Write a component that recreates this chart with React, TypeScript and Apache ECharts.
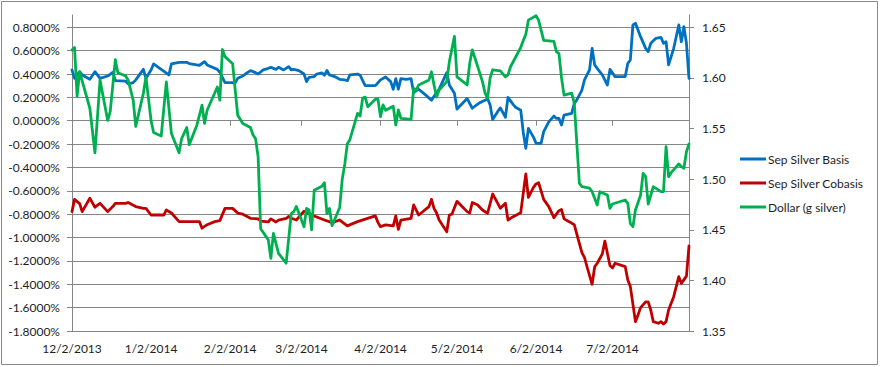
import React, { useEffect, useRef } from 'react';
import * as echarts from 'echarts';

const xStart = '12/2/2013';
const xEnd = '8/1/2014';
const xTickDates = ['12/2/2013', '1/2/2014', '2/2/2014', '3/2/2014', '4/2/2014', '5/2/2014', '6/2/2014', '7/2/2014'];

const seriesNames = ['Sep Silver Basis', 'Sep Silver Cobasis', 'Dollar (g silver)'];

const basis: [string, number][] = [
  ['12/2/2013', 0.435], ['12/3/2013', 0.363], ['12/5/2013', 0.42], ['12/6/2013', 0.392], ['12/9/2013', 0.355],
  ['12/11/2013', 0.42], ['12/13/2013', 0.363], ['12/16/2013', 0.383], ['12/18/2013', 0.415], ['12/19/2013', 0.343],
  ['12/23/2013', 0.34], ['12/24/2013', 0.315], ['12/26/2013', 0.326], ['12/27/2013', 0.35], ['12/30/2013', 0.44],
  ['12/31/2013', 0.363], ['1/2/2014', 0.435], ['1/3/2014', 0.486], ['1/6/2014', 0.44], ['1/9/2014', 0.392],
  ['1/10/2014', 0.486], ['1/13/2014', 0.5], ['1/16/2014', 0.5], ['1/17/2014', 0.49], ['1/21/2014', 0.475],
  ['1/23/2014', 0.506], ['1/24/2014', 0.478], ['1/28/2014', 0.44], ['1/29/2014', 0.415], ['1/31/2014', 0.326],
  ['2/4/2014', 0.326], ['2/5/2014', 0.363], ['2/7/2014', 0.383], ['2/8/2014', 0.4], ['2/10/2014', 0.429],
  ['2/12/2014', 0.412], ['2/13/2014', 0.4], ['2/15/2014', 0.435], ['2/17/2014', 0.449], ['2/18/2014', 0.457],
  ['2/20/2014', 0.44], ['2/21/2014', 0.457], ['2/23/2014', 0.435], ['2/25/2014', 0.463], ['2/26/2014', 0.435],
  ['2/27/2014', 0.44], ['3/1/2014', 0.429], ['3/3/2014', 0.4], ['3/4/2014', 0.335], ['3/5/2014', 0.372],
  ['3/7/2014', 0.378], ['3/8/2014', 0.4], ['3/10/2014', 0.41], ['3/11/2014', 0.39], ['3/12/2014', 0.43],
  ['3/13/2014', 0.392], ['3/15/2014', 0.378], ['3/17/2014', 0.355], ['3/19/2014', 0.349], ['3/20/2014', 0.343],
  ['3/21/2014', 0.392], ['3/24/2014', 0.4], ['3/25/2014', 0.39], ['3/27/2014', 0.3], ['3/29/2014', 0.3],
  ['3/31/2014', 0.3], ['4/2/2014', 0.35], ['4/4/2014', 0.375], ['4/6/2014', 0.335], ['4/7/2014', 0.27],
  ['4/8/2014', 0.36], ['4/9/2014', 0.27], ['4/10/2014', 0.36], ['4/12/2014', 0.355], ['4/14/2014', 0.36],
  ['4/15/2014', 0.24], ['4/17/2014', 0.27], ['4/20/2014', 0.215], ['4/22/2014', 0.175], ['4/23/2014', 0.21],
  ['4/25/2014', 0.27], ['4/28/2014', 0.412], ['4/29/2014', 0.306], ['5/1/2014', 0.235], ['5/2/2014', 0.1],
  ['5/4/2014', 0.145], ['5/6/2014', 0.19], ['5/8/2014', 0.107], ['5/10/2014', 0.14], ['5/11/2014', 0.155],
  ['5/13/2014', 0.175], ['5/14/2014', 0.19], ['5/15/2014', 0.135], ['5/16/2014', 0.01], ['5/18/2014', 0.08],
  ['5/19/2014', 0.11], ['5/21/2014', 0.03], ['5/22/2014', 0.2], ['5/24/2014', 0.14], ['5/25/2014', 0.115],
  ['5/27/2014', 0.09], ['5/28/2014', -0.1], ['5/29/2014', -0.236], ['5/30/2014', -0.065], ['6/1/2014', -0.14],
  ['6/2/2014', -0.193], ['6/4/2014', -0.193], ['6/5/2014', -0.093], ['6/7/2014', -0.01], ['6/9/2014', 0.04],
  ['6/10/2014', 0.02], ['6/11/2014', 0.02], ['6/12/2014', -0.036], ['6/13/2014', 0.049], ['6/16/2014', 0.064],
  ['6/17/2014', 0.149], ['6/18/2014', 0.178], ['6/20/2014', 0.263], ['6/21/2014', 0.349], ['6/23/2014', 0.435],
  ['6/24/2014', 0.62], ['6/25/2014', 0.478], ['6/26/2014', 0.449], ['6/28/2014', 0.392], ['6/30/2014', 0.306],
  ['7/1/2014', 0.44], ['7/3/2014', 0.378], ['7/5/2014', 0.378], ['7/7/2014', 0.378], ['7/8/2014', 0.492],
  ['7/9/2014', 0.52], ['7/10/2014', 0.82], ['7/11/2014', 0.834], ['7/13/2014', 0.72], ['7/15/2014', 0.62],
  ['7/16/2014', 0.592], ['7/17/2014', 0.663], ['7/19/2014', 0.706], ['7/21/2014', 0.714], ['7/22/2014', 0.663],
  ['7/23/2014', 0.677], ['7/24/2014', 0.478], ['7/26/2014', 0.62], ['7/28/2014', 0.82], ['7/29/2014', 0.677],
  ['7/30/2014', 0.806], ['7/31/2014', 0.663], ['8/1/2014', 0.363],
];

const cobasis: [string, number][] = [
  ['12/2/2013', -0.778], ['12/3/2013', -0.673], ['12/5/2013', -0.71], ['12/6/2013', -0.778], ['12/9/2013', -0.664],
  ['12/11/2013', -0.74], ['12/13/2013', -0.707], ['12/16/2013', -0.778], ['12/18/2013', -0.735], ['12/19/2013', -0.707],
  ['12/23/2013', -0.707], ['12/24/2013', -0.7], ['12/27/2013', -0.735], ['12/30/2013', -0.75], ['12/31/2013', -0.75],
  ['1/2/2014', -0.807], ['1/7/2014', -0.807], ['1/8/2014', -0.764], ['1/10/2014', -0.79], ['1/13/2014', -0.864],
  ['1/21/2014', -0.864], ['1/22/2014', -0.92], ['1/24/2014', -0.89], ['1/27/2014', -0.864], ['1/29/2014', -0.855],
  ['1/31/2014', -0.75], ['2/3/2014', -0.75], ['2/5/2014', -0.79], ['2/7/2014', -0.8], ['2/10/2014', -0.835],
  ['2/13/2014', -0.84], ['2/14/2014', -0.86], ['2/17/2014', -0.866], ['2/18/2014', -0.84], ['2/20/2014', -0.867],
  ['2/21/2014', -0.85], ['2/24/2014', -0.835], ['2/25/2014', -0.82], ['2/26/2014', -0.835], ['2/28/2014', -0.85],
  ['3/3/2014', -0.775], ['3/7/2014', -0.815], ['3/11/2014', -0.85], ['3/14/2014', -0.872], ['3/17/2014', -0.85],
  ['3/20/2014', -0.9], ['3/24/2014', -0.864], ['3/31/2014', -0.815], ['4/1/2014', -0.87], ['4/2/2014', -0.907],
  ['4/4/2014', -0.892], ['4/7/2014', -0.9], ['4/8/2014', -0.815], ['4/9/2014', -0.93], ['4/10/2014', -0.85],
  ['4/14/2014', -0.835], ['4/15/2014', -0.721], ['4/17/2014', -0.807], ['4/21/2014', -0.735], ['4/22/2014', -0.673],
  ['4/23/2014', -0.75], ['4/24/2014', -0.79], ['4/25/2014', -0.85], ['4/28/2014', -0.95], ['4/29/2014', -0.807],
  ['4/30/2014', -0.8], ['5/2/2014', -0.69], ['5/4/2014', -0.735], ['5/6/2014', -0.778], ['5/7/2014', -0.79],
  ['5/8/2014', -0.7], ['5/10/2014', -0.72], ['5/12/2014', -0.764], ['5/14/2014', -0.792], ['5/16/2014', -0.627],
  ['5/18/2014', -0.707], ['5/19/2014', -0.75], ['5/21/2014', -0.707], ['5/22/2014', -0.85], ['5/24/2014', -0.821],
  ['5/27/2014', -0.787], ['5/29/2014', -0.456], ['5/30/2014', -0.656], ['6/1/2014', -0.57], ['6/2/2014', -0.541],
  ['6/3/2014', -0.53], ['6/5/2014', -0.673], ['6/7/2014', -0.735], ['6/9/2014', -0.83], ['6/11/2014', -0.77],
  ['6/12/2014', -0.76], ['6/13/2014', -0.84], ['6/15/2014', -0.864], ['6/17/2014', -0.89], ['6/18/2014', -0.97],
  ['6/20/2014', -1.13], ['6/21/2014', -1.17], ['6/22/2014', -1.25], ['6/24/2014', -1.4], ['6/25/2014', -1.25],
  ['6/26/2014', -1.22], ['6/28/2014', -1.14], ['6/29/2014', -1.03], ['7/1/2014', -1.24], ['7/2/2014', -1.26],
  ['7/3/2014', -1.22], ['7/7/2014', -1.249], ['7/8/2014', -1.363], ['7/9/2014', -1.42], ['7/11/2014', -1.72],
  ['7/12/2014', -1.663], ['7/13/2014', -1.6], ['7/15/2014', -1.55], ['7/16/2014', -1.55], ['7/17/2014', -1.62],
  ['7/18/2014', -1.72], ['7/20/2014', -1.734], ['7/21/2014', -1.72], ['7/22/2014', -1.74], ['7/23/2014', -1.72],
  ['7/24/2014', -1.62], ['7/26/2014', -1.506], ['7/28/2014', -1.335], ['7/29/2014', -1.392], ['7/31/2014', -1.33],
  ['8/1/2014', -1.072],
];

const dollar: [string, number][] = [
  ['12/2/2013', 1.6276], ['12/3/2013', 1.63], ['12/4/2013', 1.582], ['12/5/2013', 1.606], ['12/9/2013', 1.57],
  ['12/11/2013', 1.526], ['12/13/2013', 1.598], ['12/16/2013', 1.558], ['12/17/2013', 1.567], ['12/19/2013', 1.618],
  ['12/20/2013', 1.605], ['12/23/2013', 1.602], ['12/24/2013', 1.598], ['12/26/2013', 1.578], ['12/27/2013', 1.552],
  ['12/30/2013', 1.585], ['12/31/2013', 1.601], ['1/2/2014', 1.558], ['1/3/2014', 1.546], ['1/6/2014', 1.5426],
  ['1/8/2014', 1.596], ['1/10/2014', 1.545], ['1/13/2014', 1.526], ['1/14/2014', 1.54], ['1/16/2014', 1.551],
  ['1/17/2014', 1.534], ['1/20/2014', 1.5535], ['1/22/2014', 1.573], ['1/23/2014', 1.555], ['1/24/2014', 1.568],
  ['1/28/2014', 1.591], ['1/29/2014', 1.578], ['1/30/2014', 1.628], ['1/31/2014', 1.621], ['2/3/2014', 1.614],
  ['2/5/2014', 1.563], ['2/7/2014', 1.555], ['2/10/2014', 1.551], ['2/11/2014', 1.5436], ['2/12/2014', 1.54],
  ['2/13/2014', 1.522], ['2/14/2014', 1.451], ['2/17/2014', 1.44], ['2/18/2014', 1.4217], ['2/19/2014', 1.4464],
  ['2/21/2014', 1.4267], ['2/24/2014', 1.417], ['2/26/2014', 1.466], ['2/27/2014', 1.468], ['2/28/2014', 1.473],
  ['3/3/2014', 1.453], ['3/4/2014', 1.471], ['3/5/2014', 1.4695], ['3/6/2014', 1.45], ['3/7/2014', 1.489],
  ['3/10/2014', 1.493], ['3/11/2014', 1.4965], ['3/12/2014', 1.466], ['3/13/2014', 1.471], ['3/14/2014', 1.454],
  ['3/17/2014', 1.472], ['3/18/2014', 1.5], ['3/19/2014', 1.515], ['3/20/2014', 1.535], ['3/21/2014', 1.539],
  ['3/24/2014', 1.565], ['3/25/2014', 1.5624], ['3/26/2014', 1.58], ['3/27/2014', 1.581], ['3/28/2014', 1.5716],
  ['3/31/2014', 1.579], ['4/1/2014', 1.579], ['4/2/2014', 1.5617], ['4/3/2014', 1.5733], ['4/4/2014', 1.568],
  ['4/7/2014', 1.572], ['4/8/2014', 1.5535], ['4/9/2014', 1.5683], ['4/10/2014', 1.5601], ['4/14/2014', 1.5591],
  ['4/15/2014', 1.5897], ['4/16/2014', 1.588], ['4/17/2014', 1.593], ['4/21/2014', 1.598], ['4/22/2014', 1.606],
  ['4/23/2014', 1.593], ['4/24/2014', 1.581], ['4/25/2014', 1.588], ['4/28/2014', 1.5963], ['4/29/2014', 1.616],
  ['5/1/2014', 1.641], ['5/2/2014', 1.601], ['5/6/2014', 1.593], ['5/7/2014', 1.6144], ['5/8/2014', 1.6276],
  ['5/9/2014', 1.62], ['5/12/2014', 1.5963], ['5/13/2014', 1.585], ['5/14/2014', 1.58], ['5/15/2014', 1.6],
  ['5/16/2014', 1.608], ['5/19/2014', 1.607], ['5/21/2014', 1.601], ['5/22/2014', 1.603], ['5/23/2014', 1.611],
  ['5/27/2014', 1.63], ['5/28/2014', 1.637], ['5/29/2014', 1.643], ['5/30/2014', 1.657], ['6/2/2014', 1.6615],
  ['6/3/2014', 1.657], ['6/5/2014', 1.637], ['6/9/2014', 1.636], ['6/10/2014', 1.626], ['6/11/2014', 1.624],
  ['6/12/2014', 1.6], ['6/13/2014', 1.583], ['6/16/2014', 1.585], ['6/17/2014', 1.575], ['6/19/2014', 1.496],
  ['6/20/2014', 1.4926], ['6/23/2014', 1.491], ['6/24/2014', 1.4876], ['6/26/2014', 1.4744], ['6/27/2014', 1.4876],
  ['6/30/2014', 1.4843], ['7/1/2014', 1.4711], ['7/2/2014', 1.4754], ['7/7/2014', 1.4794], ['7/8/2014', 1.4761],
  ['7/9/2014', 1.456], ['7/10/2014', 1.453], ['7/11/2014', 1.4695], ['7/13/2014', 1.484], ['7/14/2014', 1.5057],
  ['7/15/2014', 1.5024], ['7/16/2014', 1.4754], ['7/18/2014', 1.4926], ['7/21/2014', 1.4876], ['7/22/2014', 1.4876],
  ['7/23/2014', 1.5321], ['7/24/2014', 1.5024], ['7/25/2014', 1.5064], ['7/28/2014', 1.515], ['7/29/2014', 1.5123],
  ['7/30/2014', 1.5107], ['7/31/2014', 1.527], ['8/1/2014', 1.5347],
];

const parseDate = (s: string) => {
  const [m, d, y] = s.split('/').map(Number);
  return new Date(y, m - 1, d).getTime();
};
const fmtDate = (v: number) => {
  const dt = new Date(v);
  return `${dt.getMonth() + 1}/${dt.getDate()}/${dt.getFullYear()}`;
};

const FONT = 'Lato';
const TEXT = '#1e1e1e';
const GRID = '#868686';

export default function App() {
  const ref = useRef<HTMLDivElement>(null);
  useEffect(() => {
    document.body.style.margin = '0';
    const chart = echarts.init(ref.current!, null, { renderer: 'svg' });
    const toData = (arr: [string, number][]) => arr.map(([d, v]) => [parseDate(d), v]);
    const lineSeries = (name: string, color: string, data: [string, number][], yAxisIndex: number) => ({
      name,
      type: 'line',
      yAxisIndex,
      data: toData(data),
      symbol: 'none',
      showSymbol: false,
      color,
      lineStyle: { color, width: 2.8, join: 'round', cap: 'round' },
      emphasis: { disabled: true },
    });
    const tickVals = xTickDates.map(parseDate);
    chart.setOption({
      animation: false,
      backgroundColor: '#ffffff',
      textStyle: { fontFamily: FONT },
      grid: { left: 72, right: 192, top: 15, bottom: 36, containLabel: false },
      legend: {
        orient: 'vertical',
        left: 740,
        top: 152,
        padding: 0,
        icon: 'rect',
        itemWidth: 26,
        itemHeight: 3,
        itemGap: 10,
        data: seriesNames,
        textStyle: { fontFamily: FONT, fontSize: 12, lineHeight: 14, color: TEXT, padding: [0, 0, 0, -3] },
      },
      xAxis: {
        type: 'value',
        min: parseDate(xStart),
        max: parseDate(xEnd),
        axisLine: { show: true, lineStyle: { color: GRID, width: 1 } },
        axisTick: {
          show: true,
          inside: false,
          length: 5,
          customValues: tickVals,
          lineStyle: { color: GRID },
        },
        axisLabel: {
          customValues: tickVals,
          formatter: (v: number) => fmtDate(v),
          fontFamily: FONT,
          fontSize: 12,
          color: TEXT,
          margin: 11,
        },
        splitLine: { show: false },
      },
      yAxis: [
        {
          type: 'value',
          min: -1.8,
          max: 0.9053,
          interval: 0.2,
          axisLine: { show: true, lineStyle: { color: GRID, width: 1 } },
          axisTick: { show: true, length: 5, lineStyle: { color: GRID } },
          axisLabel: {
            formatter: (v: number) => v.toFixed(4) + '%',
            showMaxLabel: false,
            fontFamily: FONT,
            fontSize: 12,
            color: TEXT,
            margin: 12,
          },
          splitLine: { show: true, showMaxLine: false, lineStyle: { color: GRID, width: 1 } },
        },
        {
          type: 'value',
          min: 1.35,
          max: 1.6621,
          interval: 0.05,
          position: 'right',
          axisLine: { show: true, lineStyle: { color: GRID, width: 1 } },
          axisTick: { show: true, length: 5, lineStyle: { color: GRID } },
          axisLabel: {
            formatter: (v: number) => v.toFixed(2),
            showMaxLabel: false,
            fontFamily: FONT,
            fontSize: 12,
            color: TEXT,
            margin: 13,
          },
          splitLine: { show: false },
        },
      ],
      series: [
        lineSeries(seriesNames[0], '#0070C0', basis, 0),
        lineSeries(seriesNames[1], '#C00000', cobasis, 0),
        lineSeries(seriesNames[2], '#00B050', dollar, 1),
      ],
      graphic: [
        {
          type: 'rect',
          shape: { x: 1.5, y: 1.5, width: 876, height: 363 },
          style: { fill: 'none', stroke: '#898989', lineWidth: 1 },
          silent: true,
        },
      ],
    });
    return () => chart.dispose();
  }, []);
  return <div ref={ref} style={{ width: 881, height: 367 }} />;
}
